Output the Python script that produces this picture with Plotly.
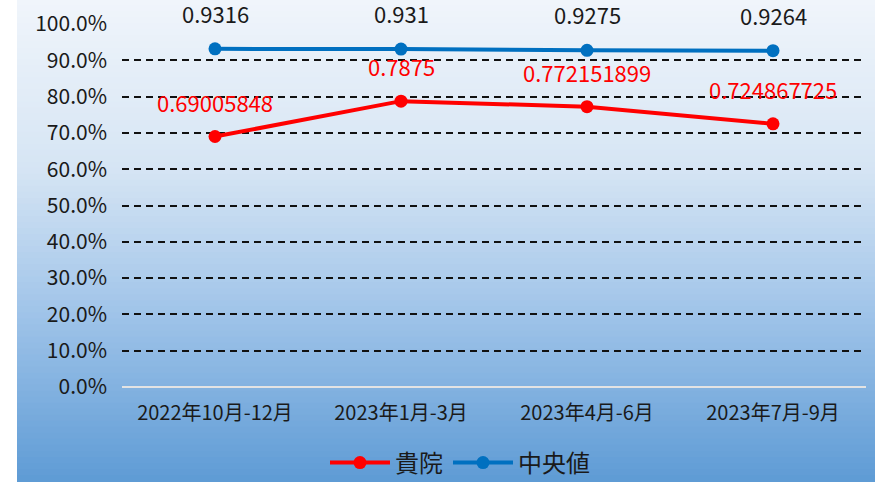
import plotly.graph_objects as go

categories = ["2022年10月-12月", "2023年1月-3月", "2023年4月-6月", "2023年7月-9月"]
kiin = [0.69005848, 0.7875, 0.772151899, 0.724867725]
median = [0.9316, 0.931, 0.9275, 0.9264]
series_names = ["貴院", "中央値"]

NUMFONT = "Noto Sans CJK JP, sans-serif"
CJKFONT = "Noto Sans CJK JP, sans-serif"
RED = "#ff0000"
BLUE = "#0070c0"

fig = go.Figure()
fig.add_trace(go.Scatter(x=categories, y=kiin, name=series_names[0], mode="lines+markers",
                         line=dict(color=RED, width=4), marker=dict(size=13, color=RED)))
fig.add_trace(go.Scatter(x=categories, y=median, name=series_names[1], mode="lines+markers",
                         line=dict(color=BLUE, width=4), marker=dict(size=13, color=BLUE)))

annotations = []
for c, v in zip(categories, kiin):
    annotations.append(dict(x=c, y=v, text=str(v), showarrow=False, yshift=35,
                            font=dict(family=NUMFONT, size=22, color=RED)))
for c, v in zip(categories, median):
    annotations.append(dict(x=c, y=v, text=str(v), showarrow=False, yshift=36,
                            font=dict(family=NUMFONT, size=22, color="#1a1a1a")))

# gradient background built from strips
def lerp(a, b, t):
    return tuple(int(round(a[i] + (b[i] - a[i]) * t)) for i in range(3))

stops = [(0.0, (240, 245, 251)), (0.35, (214, 229, 244)), (0.65, (160, 196, 233)), (1.0, (94, 155, 213))]
def grad(t):
    for (t0, c0), (t1, c1) in zip(stops[:-1], stops[1:]):
        if t <= t1:
            return lerp(c0, c1, (t - t0) / (t1 - t0))
    return stops[-1][1]

W, H = 875, 482
L, R, T, B = 122, 9, 24, 95
pw, ph = W - L - R, H - T - B
def px2x(px):
    return (px - L) / pw
def py2y(py):
    return (H - B - py) / ph

shapes = []
N = 80
for i in range(N):
    y0p = H * i / N - 1
    y1p = H * (i + 1) / N + 1
    col = grad((i + 0.5) / N)
    shapes.append(dict(type="rect", xref="paper", yref="paper", layer="below",
                       x0=px2x(17), x1=px2x(W + 2), y0=py2y(y1p), y1=py2y(y0p),
                       fillcolor="rgb(%d,%d,%d)" % col, line=dict(width=0)))

fig.update_layout(
    width=W, height=H,
    margin=dict(l=L, r=R, t=T, b=B, autoexpand=False),
    paper_bgcolor="white",
    plot_bgcolor="rgba(0,0,0,0)",
    shapes=shapes,
    annotations=annotations,
    showlegend=True,
    legend=dict(orientation="h", x=px2x(460), y=py2y(463), xanchor="center", yanchor="middle",
                itemwidth=60,
                font=dict(family=CJKFONT, size=24, color="#1a1a1a"), bgcolor="rgba(0,0,0,0)"),
    font=dict(family=CJKFONT, color="#1a1a1a"),
)
fig.update_yaxes(range=[0, 1], dtick=0.1, tickformat=".1%", showgrid=True, automargin=False,
                 gridcolor="#111111", gridwidth=2, griddash="7px,5px",
                 zeroline=True, zerolinecolor="#e3e3e3", zerolinewidth=2,
                 tickfont=dict(family=NUMFONT, size=21, color="#1a1a1a"), ticks="", ticklabelstandoff=14)
fig.update_xaxes(range=[-0.5, 3.5], showgrid=False, zeroline=False, showline=False, automargin=False,
                 tickfont=dict(family=CJKFONT, size=20, color="#1a1a1a"), ticklabelstandoff=12)

fig.write_html("out.html", config={"displayModeBar": False},
               post_script="document.body.style.margin='0';document.body.style.overflow='hidden';")
